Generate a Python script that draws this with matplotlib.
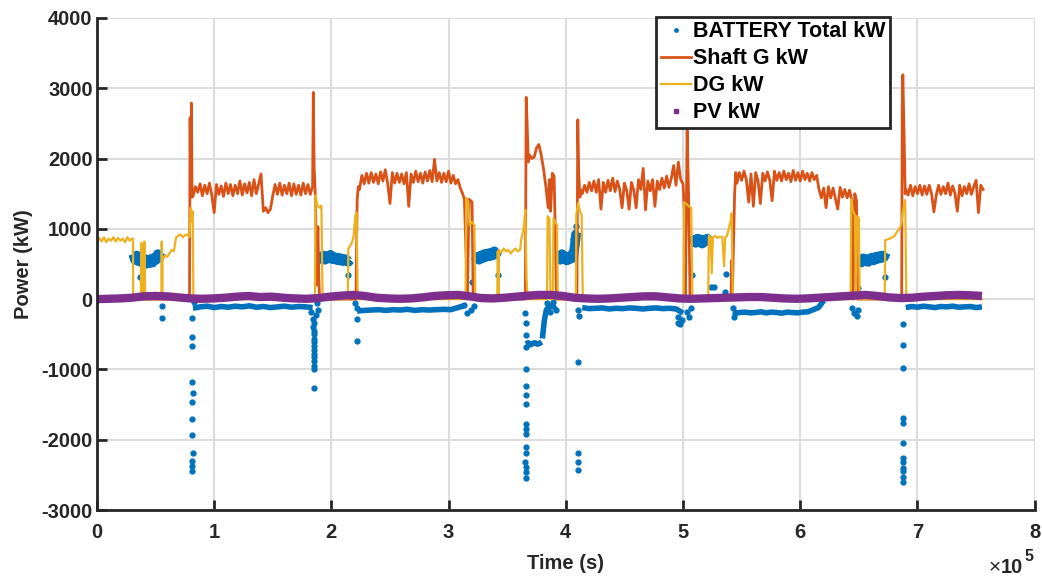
import numpy as np
import matplotlib.pyplot as plt
from matplotlib.lines import Line2D
from matplotlib.ticker import FuncFormatter

plt.rcParams['font.family'] = ['Liberation Sans', 'DejaVu Sans']
plt.rcParams['font.weight'] = 'bold'
plt.rcParams['axes.unicode_minus'] = False

BLUE = '#0072BD'
ORANGE = '#D95319'
YELLOW = '#EDB120'
PURPLE = '#7E2F8E'

# ---- data (time in s, power in kW) ----

# shaft generator: steady runs, (start, end) and readings
shaft_spans = [(82000, 184000), (224000, 312000), (414000, 500000),
               (546000, 644000), (690000, 756000)]
shaft_run1 = [1460, 1600, 1520, 1640, 1470, 1620, 1500, 1650, 1480, 1230,
              1630, 1490, 1610, 1460, 1650, 1500, 1630, 1470, 1620, 1500,
              1680, 1480, 1640, 1510, 1660, 1470, 1700, 1500, 1640, 1780,
              1250, 1300, 1230, 1280, 1470, 1630, 1490, 1650, 1480, 1620,
              1500, 1650, 1470, 1640, 1490, 1620, 1480, 1650, 1500, 1630,
              1490, 1600]
shaft_run2 = [1560, 1760, 1640, 1790, 1650, 1800, 1660, 1780, 1640, 1810,
              1680, 1840, 1650, 1360, 1800, 1650, 1790, 1660, 1780, 1640,
              1800, 1320, 1780, 1660, 1820, 1670, 1790, 1650, 1810, 1680,
              1830, 1670, 1990, 1680, 1800, 1660, 1790, 1670, 1820, 1650,
              1760, 1640, 1700, 1580, 1500]
shaft_run3 = [1500, 1620, 1520, 1660, 1540, 1680, 1520, 1700, 1280, 1660,
              1520, 1690, 1540, 1720, 1530, 1680, 1560, 1300, 1650, 1540,
              1280, 1660, 1550, 1300, 1700, 1560, 1860, 1270, 1680, 1540,
              1700, 1320, 1680, 1560, 1720, 1580, 1750, 1590, 1720, 1900,
              1620, 1950, 1700, 1640]
shaft_run4 = [1650, 1800, 1690, 1820, 1700, 1380, 1780, 1320, 1800, 1680,
              1360, 1790, 1680, 1810, 1690, 1400, 1820, 1690, 1800, 1680,
              1820, 1700, 1790, 1670, 1830, 1690, 1800, 1680, 1820, 1700,
              1790, 1680, 1800, 1700, 1760,
              1560, 1440, 1580, 1300, 1600, 1440, 1580, 1430, 1280, 1590,
              1450, 1560, 1440, 1550, 1400]
shaft_run5 = [1560, 1480, 1620, 1470, 1600, 1500, 1620, 1480, 1610, 1490,
              1620, 1500, 1240, 1480, 1620, 1490, 1600, 1500, 1650, 1480,
              1610, 1500, 1250, 1620, 1470, 1600, 1500, 1640, 1490, 1600,
              1690, 1230, 1620, 1560]
shaft_edges = [(0, 0), (79000, 0), (79500, 2580), (80000, 1500), (80600, 2790), (81200, 1450),
               (184600, 2940), (185300, 1900), (186500, 1400), (187500, 200), (188500, 1030),
               (189300, 300), (190000, 0),
               (221000, 0), (222000, 1410), (223000, 1600),
               (313500, 1420), (315000, 600), (316000, 0), (317500, 1420), (320000, 1380), (321000, 0),
               (365500, 0), (366200, 2870), (367000, 2500), (368000, 1950), (369000, 2050),
               (371000, 2000), (373000, 2020), (375000, 2150), (377000, 2200), (379000, 2050),
               (381000, 1850), (383000, 1600), (385000, 1300), (386000, 1700), (387000, 1250),
               (388500, 1790), (390000, 1750), (391000, 1000), (392000, 0),
               (409500, 0), (410200, 2550), (411000, 1800), (412000, 1450), (413000, 1550),
               (501000, 1300), (502000, 0), (503500, 2400), (505000, 1250), (506000, 0),
               (541000, 0), (541500, 550), (542000, 0), (544000, 1500), (545000, 1800),
               (645000, 0), (646500, 1500), (648000, 1400), (649000, 0),
               (686500, 0), (687000, 2700), (687500, 3190), (688500, 2400), (689500, 1500)]

# diesel generators
dg_spans = [(0, 30000), (58000, 79000), (343000, 361000)]
dg_run1 = [800, 870, 820, 880, 810, 860, 830, 880, 820, 870, 830, 860, 810, 880, 830, 860]
dg_run2 = [620, 600, 650, 700, 680, 880, 900, 920, 880, 910, 920, 880]
dg_run3 = [700, 660, 720, 680, 700, 650, 690, 720, 680, 700]
dg_edges = [(30800, 860), (31000, 0), (37500, 0), (37800, 800), (38500, 780), (38800, 0),
            (40200, 0), (40500, 820), (41300, 0), (55000, 0), (55300, 820), (55700, 0), (56000, 580),
            (80000, 1300), (81000, 1100), (81800, 1250), (82300, 0),
            (186000, 0), (186500, 1480), (188000, 1340), (190000, 1300), (191500, 1330), (192500, 0),
            (214000, 0), (214500, 720), (216000, 760), (217500, 800), (219000, 900),
            (220500, 1200), (221500, 1230), (222500, 0),
            (314500, 0), (315000, 1440), (316500, 1400), (318000, 1050), (320000, 1100),
            (322000, 1050), (322800, 0),
            (341500, 0), (342000, 680), (342500, 0),
            (362000, 850), (364000, 1000), (365500, 1270), (366500, 300), (367500, 0),
            (384000, 0), (384500, 1180), (386000, 1150), (387000, 0), (389000, 0),
            (389500, 1150), (391000, 1100), (392500, 1050), (393200, 0),
            (408500, 0), (409000, 1200), (410500, 1370), (412000, 1250), (413500, 1200), (414500, 0),
            (500500, 0), (501000, 1380), (503000, 1350), (505000, 1320), (507000, 1300), (508000, 0),
            (521500, 0), (522000, 900), (523500, 880), (524500, 370), (525500, 880), (527500, 900),
            (529500, 870), (531500, 890), (533500, 880), (535000, 470), (536000, 880),
            (537500, 900), (539000, 1000), (540500, 1100), (541500, 1220), (542500, 0),
            (643000, 0), (643500, 1420), (645000, 1250), (646500, 1200), (647500, 0),
            (648500, 1180), (650000, 1150), (650700, 0),
            (672000, 0), (672500, 840), (674500, 850), (676500, 860), (678500, 880),
            (680500, 900), (682500, 960), (684500, 1000), (686000, 1050), (688000, 1300),
            (689500, 1410), (690500, 0), (755000, 0)]

# battery: discharge blocks (dense band) and charge blocks (thin band)
bat_high_spans = [(31000, 55000), (190000, 216000), (323000, 342000),
                  (394000, 409000), (508000, 522000), (650500, 673000)]
bat_high = [
    [640, 560, 620, 540, 600, 520, 580, 500, 560, 510, 570, 520, 590, 560, 640, 600, 660],
    [600, 570, 620, 560, 610, 580, 630, 570, 600, 560, 590, 550, 580, 540, 570, 560, 530, 560],
    [540, 600, 560, 620, 580, 640, 600, 650, 610, 660, 620, 680, 640, 690],
    [620, 560, 640, 580, 610, 550, 600, 570, 630, 590, 760, 950],
    [780, 840, 800, 860, 810, 850, 790, 840, 820, 860, 830],
    [560, 520, 580, 540, 570, 530, 560, 590, 550, 600, 570, 610, 580, 620, 600, 660],
]
bat_low_spans = [(82000, 184000), (222000, 314000), (366000, 379500), (380000, 392000),
                 (414000, 500000), (544000, 620000), (620000, 642000), (690000, 755000)]
bat_low = [
    [-130, -110, -100, -120, -105, -115, -100, -110, -95, -115, -105, -120, -110, -100, -115, -105, -110, -120],
    [-170, -160, -155, -150, -160, -150, -155, -145, -160, -150, -155, -150, -145, -150, -120, -90],
    [-640, -620, -650, -630, -620, -640, -630, -610],
    [-560, -300, -150, -120, -110, -95, -120, -100],
    [-120, -135, -130, -125, -140, -130, -135, -125, -130, -140, -130, -125, -135, -130, -140, -200],
    [-200, -190, -185, -195, -190, -180, -195, -185, -190, -200, -185, -190, -195, -185, -180, -150, -120, -20],
    [20, 45, 30, 50, 35, 40],
    [-120, -105, -115, -100, -110, -120, -105, -110, -100, -115, -110, -105, -120, -110],
]
bat_dots = [(36700, 310), (55300, -100), (55500, -270),
            (80800, -270), (81300, -540), (80800, -670), (81300, -1180), (81800, -1330),
            (81300, -1460), (80800, -1700), (81300, -1930), (81800, -2190), (81300, -2300),
            (80800, -2380), (81300, -2450), (83000, -40),
            (183000, -180), (184500, -280), (185000, -340), (184700, -400), (185200, -450),
            (184900, -500), (185300, -560), (185000, -610), (185200, -660), (184800, -720),
            (185100, -780), (185300, -830), (185000, -880), (184900, -950), (185200, -1000),
            (185000, -1260), (187000, -220), (189000, -150), (188000, -60),
            (214000, 340), (220000, -60), (222000, -130), (221700, -280), (221900, -590),
            (313000, -80), (316000, -200), (319000, -150), (322000, -100), (320000, 250), (342000, 340),
            (365200, -200), (365800, -340), (366000, -510), (365700, -680), (366000, -1000),
            (366200, -1240), (365900, -1360), (366100, -1490), (365700, -1780), (366000, -1840),
            (365800, -1920), (366300, -2100), (366000, -2190), (365600, -2310), (366100, -2390),
            (365800, -2460), (366200, -2540),
            (384000, -60), (386500, -180), (389000, -40), (391500, -150),
            (406500, 860), (407500, 950), (408500, 1040), (410300, -890), (410500, -2190),
            (410300, -2320), (410500, -2430), (410500, -160), (411500, -240),
            (495500, -340), (496000, -250), (497500, -360), (499000, -300), (503000, -180),
            (505000, -250), (506500, -120), (508000, 340),
            (524000, 170), (526000, 175), (536000, 100), (536500, 360), (542500, -120),
            (543500, -250), (544500, -200),
            (643000, 50), (644500, -120), (646000, -200), (648000, -240), (649500, -150),
            (649500, 160), (672000, 310),
            (687400, -355), (687800, -650), (687400, -980), (687600, -1690), (688000, -1760),
            (687500, -2050), (687800, -2260), (687400, -2310), (687700, -2400), (687500, -2450),
            (687900, -2530), (687600, -2600)]

# photovoltaic, sampled evenly from 0 to 755000 s
pv_kw = [0, 5, 10, 20, 40, 45, 40, 25, 10, 5, 10, 20, 35, 45, 30, 35, 20, 10, 5, 15,
         35, 50, 60, 45, 20, 10, 5, 10, 25, 45, 55, 60, 40, 15, 10, 20, 35, 50, 60, 60,
         45, 20, 10, 5, 10, 20, 30, 40, 40, 25, 10, 5, 10, 15, 20, 25, 30, 30, 20, 10,
         5, 10, 20, 30, 40, 50, 60, 45, 25, 15, 20, 35, 45, 55, 60, 55, 45]


def build(spans, runs, edges):
    pts = list(edges)
    for (a, b), vals in zip(spans, runs):
        pts += list(zip(np.linspace(a, b, len(vals)), vals))
    pts.sort(key=lambda p: p[0])
    t, v = zip(*pts)
    return np.array(t), np.array(v)


shaft_t, shaft_kw = build(shaft_spans, [shaft_run1, shaft_run2, shaft_run3, shaft_run4, shaft_run5], shaft_edges)
dg_t, dg_kw = build(dg_spans, [dg_run1, dg_run2, dg_run3], dg_edges)
pv_t = np.linspace(0, 755000, len(pv_kw))

fig = plt.figure(figsize=(10.42, 5.77), dpi=100)
ax = fig.add_axes([0.093, 0.116, 0.9, 0.853])

for (a, b), vals in zip(bat_high_spans, bat_high):
    ax.plot(np.linspace(a, b, len(vals)), vals, color=BLUE, lw=7, solid_capstyle='butt')
for (a, b), vals in zip(bat_low_spans, bat_low):
    ax.plot(np.linspace(a, b, len(vals)), vals, color=BLUE, lw=4, solid_capstyle='butt')
dots_t, dots_kw = zip(*bat_dots)
bat_line, = ax.plot(dots_t, dots_kw, '.', color=BLUE, ms=7)

shaft_line, = ax.plot(shaft_t, shaft_kw, color=ORANGE, lw=2.0)
dg_line, = ax.plot(dg_t, dg_kw, color=YELLOW, lw=1.6)
ax.plot(pv_t, pv_kw, color=PURPLE, lw=6, solid_capstyle='butt')
pv_handle = Line2D([], [], ls='none', marker='s', ms=4, color=PURPLE)

ax.set_xlim(0, 8e5)
ax.set_ylim(-3000, 4000)
ax.set_xticks(np.arange(0, 8.01e5, 1e5))
ax.set_yticks(np.arange(-3000, 4001, 1000))
ax.xaxis.set_major_formatter(FuncFormatter(lambda v, p: f"{v / 1e5:g}"))
ax.grid(True, color='#dcdcdc', lw=1.5)
ax.set_axisbelow(True)
for s in ['top', 'right']:
    ax.spines[s].set_visible(False)
for s in ['left', 'bottom']:
    ax.spines[s].set_color('#262626')
    ax.spines[s].set_linewidth(2)
ax.tick_params(direction='in', length=7, width=2, colors='#262626', labelsize=14.5,
               labelcolor='#262626')
ax.tick_params(axis='x', pad=9)
ax.tick_params(axis='y', pad=3)

ax.set_xlabel('Time (s)', fontsize=14.5, fontweight='bold', color='#262626', labelpad=9)
ax.set_ylabel('Power (kW)', fontsize=14.5, fontweight='bold', color='#262626', labelpad=6)

# exponent note under the right end of the x axis
ax.text(0.964, -0.128, '\u00d7', transform=ax.transAxes, ha='right', va='baseline',
        fontsize=15, color='#262626', fontweight='normal')
ax.text(0.988, -0.128, '10', transform=ax.transAxes, ha='right', va='baseline',
        fontsize=14.5, color='#262626', fontweight='bold')
ax.text(0.989, -0.104, '5', transform=ax.transAxes, ha='left', va='baseline',
        fontsize=11.5, color='#262626', fontweight='bold')

leg = ax.legend([bat_line, shaft_line, dg_line, pv_handle],
                ['BATTERY Total kW', 'Shaft G kW', 'DG kW', 'PV kW'],
                loc='upper right', bbox_to_anchor=(0.8454, 1.002), borderaxespad=0,
                fancybox=False, framealpha=1, edgecolor='#262626', fontsize=15.5,
                handlelength=1.4, handletextpad=0.1, labelspacing=0.28, borderpad=0.2,
                markerscale=0.7)
leg.get_frame().set_linewidth(2)

fig.savefig('out.png', dpi=100)
